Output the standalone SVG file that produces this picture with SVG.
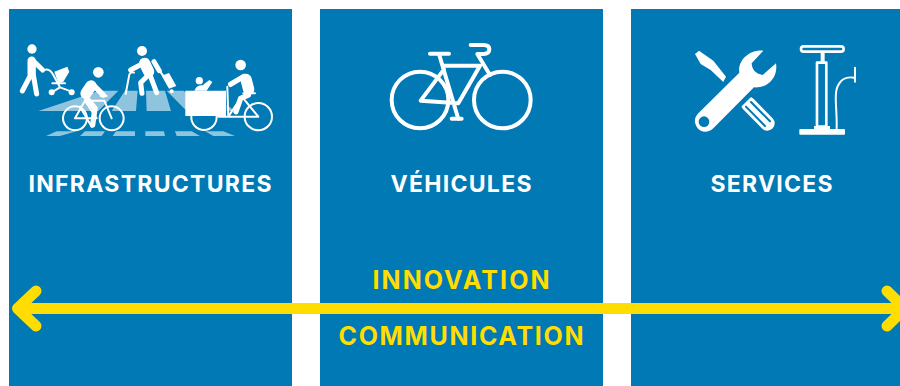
<svg xmlns="http://www.w3.org/2000/svg" width="900" height="386" viewBox="0 0 900 386">
<style>
.panel{fill:#0079B4}
.t{font-family:"Inter","Liberation Sans",sans-serif;font-weight:700;text-anchor:middle}
.w{fill:#fff;font-size:23px}
.y{fill:#FFDD00;font-size:25px}
.s{fill:none;stroke:#fff;stroke-linecap:round;stroke-linejoin:round}
.f{fill:#fff}
.b{fill:#0079B4}
.c{fill:#8FC4DF}
</style>
<rect width="900" height="386" fill="#fff"/>
<g id="infrastructures">
<rect class="panel" x="9" y="9" width="283" height="377"/>
<g transform="translate(10 30) scale(.3333)">
<path class="c" d="M85 243L268 182H325L265 243ZM305 243L345 182H383L378 243ZM408 182H465L483 243H410ZM470 182H520L610 243H530ZM650 225L675 243H650ZM108 318L140 304H200L150 318ZM210 318L225 304H285L275 318ZM308 318L318 304H375V318ZM406 304H462L465 318H406ZM495 304H545L570 318H500ZM585 304H640L675 318H610Z"/>
<circle class="f" cx="66" cy="57" r="14"/>
<path class="s" stroke-width="25" d="M65 92V132"/>
<path class="s" stroke-width="15" d="M62 135L37 183M70 135L80 192M72 95L98 120"/>
<path class="s" stroke-width="6" d="M106 119Q120 116 130 135L150 172L185 185M150 172L125 187M127 160H165"/>
<path class="f" d="M133 125L172 110L178 125L160 155L145 160Z"/>
<circle class="f" cx="125" cy="187" r="9"/><circle class="f" cx="185" cy="187" r="9"/>
<circle class="f" cx="396" cy="63" r="15"/>
<path class="s" stroke-width="34" d="M404 100L416 125"/>
<path class="s" stroke-width="15" d="M400 100L362 120M432 95L448 122M410 140L392 158L396 190M422 140L440 188"/>
<path class="s" stroke-width="6" d="M372 128Q362 124 358 134L347 192M448 122L462 140"/>
<path class="f" d="M455 137L477 129L499 168L477 176Z"/>
<circle class="f" cx="485" cy="184" r="6"/>
<g class="s" stroke-width="6">
<circle cx="195" cy="265" r="36"/><circle cx="305" cy="265" r="36"/>
<path d="M195 265H260L225 212ZM225 212H283L305 265M210 230L245 290M272 198H290"/>
</g>
<circle class="f" cx="265" cy="127" r="16"/>
<path class="s" stroke-width="34" d="M243 168L228 190"/>
<path class="s" stroke-width="16" d="M250 165L280 195M230 205L255 235L248 285"/>
<path class="f" d="M526 182H648V258H526Z"/>
<circle class="f" cx="568" cy="152" r="11"/>
<path class="f" d="M553 182Q560 165 578 166L598 150L607 156L590 182Z"/>
<g class="s" stroke-width="6">
<circle cx="582" cy="262" r="38"/><circle cx="745" cy="260" r="41"/>
<path d="M625 260H745L700 205M655 260L695 200M652 170L655 260M700 190H735"/>
</g>
<circle class="f" cx="692" cy="105" r="16"/>
<path class="s" stroke-width="34" d="M708 148L716 178"/>
<path class="s" stroke-width="16" d="M700 140L662 163M715 195L692 205L678 245"/>
</g>
<text class="t w" x="150" y="192" textLength="243" lengthAdjust="spacing">INFRASTRUCTURES</text>
</g>
<g id="vehicules">
<rect class="panel" x="320" y="9" width="283" height="377"/>
<g transform="translate(370 30) scale(.3333)">
<g class="s" stroke-width="12">
<circle cx="150" cy="210" r="85"/><circle cx="397" cy="210" r="85"/>
<path d="M180 71H237M207 72L265 267M245 266H275M222 107H330L265 220L152 212L222 118M322 72L360 135M302 45H340Q358 45 358 58Q358 72 340 72H322"/>
</g>
</g>
<text class="t w" x="461" y="192" textLength="141" lengthAdjust="spacing">VÉHICULES</text>
</g>
<g id="services">
<rect class="panel" x="631" y="9" width="269" height="377"/>
<g transform="translate(680 30) scale(.3333)">
<path class="f" d="M45 72L57 62L100 92L138 140L130 156L92 120L62 102Z"/>
<path class="s" stroke-width="44" d="M205 222L262 280"/>
<path d="M213 216L270 274M198 230L255 288" stroke="#0079B4" stroke-width="6" stroke-linecap="round"/>
<path class="b" d="M176 238L216 198L200 185L160 225Z"/>
<path class="f" d="M178 128C172 90 210 58 250 62L215 100C216 118 226 132 248 135L288 100C295 140 265 175 222 172L100 295C85 310 60 308 50 290C40 272 45 262 55 250L178 128Z"/>
<circle class="b" cx="72" cy="275" r="16"/>
<rect class="s" x="363" y="49" width="128" height="16" rx="8" stroke-width="8"/>
<path class="s" stroke-width="12" d="M428 68V95"/>
<rect class="s" x="411" y="98" width="28" height="192" stroke-width="8"/>
<rect class="f" x="358" y="297" width="137" height="17" rx="3"/>
<path class="f" d="M402 297V288H450V297Z"/>
<path class="s" stroke-width="6" d="M470 295C472 240 460 190 475 165C485 145 505 140 522 143"/>
<path class="s" stroke-width="6" d="M525 113V155"/>
</g>
<text class="t w" x="771.500" y="192" textLength="122" lengthAdjust="spacing">SERVICES</text>
</g>
<g id="connectors">
<path d="M17 308.500H905" fill="none" stroke="#FFDD00" stroke-width="11"/>
<path d="M36 291L17.500 308.500L36 326" fill="none" stroke="#FFDD00" stroke-width="11" stroke-linecap="round" stroke-linejoin="round"/>
<path d="M887 291L905 308.500L887 326" fill="none" stroke="#FFDD00" stroke-width="11" stroke-linecap="round" stroke-linejoin="round"/>
</g>
<text class="t y" x="461" y="288.500" textLength="177" lengthAdjust="spacing">INNOVATION</text>
<text class="t y" x="461" y="345" textLength="245" lengthAdjust="spacing">COMMUNICATION</text>
</svg>
